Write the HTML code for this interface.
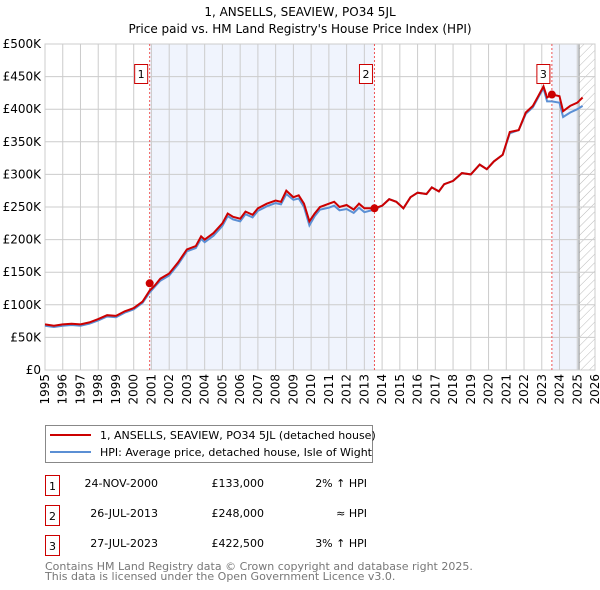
<!DOCTYPE html>
<html><head><meta charset="utf-8"><style>
body{margin:0;background:#fff;}
svg{display:block;font-family:"DejaVu Sans","Liberation Sans",sans-serif;}
</style></head><body>
<svg id="chart" width="600" height="590" xmlns="http://www.w3.org/2000/svg">
<defs><pattern id="hatch" width="6" height="6" patternUnits="userSpaceOnUse" patternTransform="rotate(45)"><line x1="0" y1="0" x2="0" y2="6" stroke="#bbb" stroke-width="1"/></pattern></defs>
<text x="300" y="16" text-anchor="middle" font-size="12" fill="#000">1, ANSELLS, SEAVIEW, PO34 5JL</text>
<text x="300" y="33" text-anchor="middle" font-size="12" fill="#000">Price paid vs. HM Land Registry's House Price Index (HPI)</text>
<g id="plot"></g>
<g>
<rect x="45.5" y="425.5" width="327" height="37" fill="#fff" stroke="#888"/>
<line x1="50" y1="435" x2="91" y2="435" stroke="#cc0000" stroke-width="2"/>
<text x="100" y="439" font-size="11">1, ANSELLS, SEAVIEW, PO34 5JL (detached house)</text>
<line x1="50" y1="452" x2="91" y2="452" stroke="#5b8fd4" stroke-width="2"/>
<text x="100" y="456" font-size="11">HPI: Average price, detached house, Isle of Wight</text>
</g>
<g font-size="11">
<rect x="45.5" y="475.5" width="14" height="20" fill="#fff" stroke="#cc0000"/><text x="52.5" y="490" text-anchor="middle">1</text>
<text x="158" y="487" text-anchor="end">24-NOV-2000</text><text x="264" y="487" text-anchor="end">£133,000</text><text x="367" y="487" text-anchor="end">2% ↑ HPI</text>
<rect x="45.5" y="505.5" width="14" height="20" fill="#fff" stroke="#cc0000"/><text x="52.5" y="520" text-anchor="middle">2</text>
<text x="158" y="517" text-anchor="end">26-JUL-2013</text><text x="264" y="517" text-anchor="end">£248,000</text><text x="367" y="517" text-anchor="end">≈ HPI</text>
<rect x="45.5" y="535.5" width="14" height="20" fill="#fff" stroke="#cc0000"/><text x="52.5" y="550" text-anchor="middle">3</text>
<text x="158" y="547" text-anchor="end">27-JUL-2023</text><text x="264" y="547" text-anchor="end">£422,500</text><text x="367" y="547" text-anchor="end">3% ↑ HPI</text>
</g>
<text x="45" y="570" font-size="11" fill="#777">Contains HM Land Registry data © Crown copyright and database right 2025.</text>
<text x="45" y="580" font-size="11" fill="#777">This data is licensed under the Open Government Licence v3.0.</text>
</svg>
<script>
const yTicks=[0,50,100,150,200,250,300,350,400,450,500];
const yTickLabels=["£0","£50K","£100K","£150K","£200K","£250K","£300K","£350K","£400K","£450K","£500K"];
const xYears=[1995,1996,1997,1998,1999,2000,2001,2002,2003,2004,2005,2006,2007,2008,2009,2010,2011,2012,2013,2014,2015,2016,2017,2018,2019,2020,2021,2022,2023,2024,2025,2026];
const saleDates=[2000.9,2013.57,2023.57];
const salePrices=[133,248,422.5];
const saleLabels=["1","2","3"];
const priceT=[1995,1995.5,1996,1996.5,1997,1997.5,1998,1998.5,1999,1999.5,2000,2000.5,2000.9,2001.2,2001.5,2002,2002.5,2003,2003.5,2003.8,2004,2004.5,2005,2005.3,2005.6,2006,2006.3,2006.7,2007,2007.5,2008,2008.3,2008.6,2009,2009.3,2009.6,2009.9,2010.2,2010.5,2011,2011.3,2011.6,2012,2012.4,2012.7,2013,2013.57,2014,2014.4,2014.8,2015.2,2015.6,2016,2016.5,2016.8,2017.2,2017.5,2018,2018.5,2019,2019.5,2019.9,2020.3,2020.8,2021.2,2021.7,2022.1,2022.5,2022.8,2023.1,2023.3,2023.57,2024.0,2024.2,2024.6,2025.0,2025.3];
const priceV=[70,68,70,71,70,73,78,84,83,90,95,105,122,130,140,148,165,185,190,205,200,210,225,240,235,232,243,238,248,255,260,258,275,265,268,255,228,240,250,255,258,250,253,246,255,248,248,252,262,258,248,265,272,270,280,274,285,290,302,300,315,308,320,330,365,368,395,405,420,435,418,422.5,420,397,405,410,418];
const hpiV=[68,66,68,69,68,71,76,82,81,88,93,103,119,128,137,145,162,182,187,201,196,206,221,236,231,228,239,234,244,251,256,254,270,261,263,250,222,236,246,249,252,245,247,241,249,242,246,252,262,258,248,265,272,270,280,274,285,290,302,300,315,308,320,330,363,368,393,403,418,432,412,412,410,388,395,400,405];
const L=45,R=595,T=44,B=370;
const xs=t=>L+(t-1995)/(2026-1995)*(R-L);
const ys=v=>B-v/500*(B-T);
const NS="http://www.w3.org/2000/svg";
const g=document.getElementById('plot');
function mk(tag,attrs,parent){const e=document.createElementNS(NS,tag);for(const k in attrs)e.setAttribute(k,attrs[k]);(parent||g).appendChild(e);return e;}
// shading
let s1=mk('rect',{x:xs(saleDates[0]),y:T,width:xs(saleDates[1])-xs(saleDates[0]),height:B-T,fill:'#f0f4fd'});


let s2=mk('rect',{x:xs(saleDates[2]),y:T,width:xs(2025.1)-xs(saleDates[2]),height:B-T,fill:'#f0f4fd'});


let h=mk('rect',{x:xs(2025.1),y:T,width:R-xs(2025.1),height:B-T,fill:'url(#hatch)'});


mk('line',{x1:xs(2025.1),x2:xs(2025.1),y1:T,y2:B,stroke:'#888'});
// grid
yTicks.forEach((v,i)=>{
  mk('line',{x1:L,x2:R,y1:ys(v),y2:ys(v),stroke:'#ccc'});
  const t=mk('text',{x:L-4,y:ys(v)+4,'text-anchor':'end','font-size':12});
  t.textContent=yTickLabels[i];
  
  
});
xYears.forEach(y=>{
  mk('line',{x1:xs(y),x2:xs(y),y1:T,y2:B,stroke:'#ccc'});
  const t=mk('text',{x:0,y:0,'text-anchor':'end','font-size':12,transform:`translate(${xs(y)+4},${B+4}) rotate(-90)`});
  t.textContent=y;
  
  
});
mk('rect',{x:L,y:T,width:R-L,height:B-T,fill:'none',stroke:'#ccc'});
// sale markers lines
saleDates.forEach((d,i)=>{
  mk('line',{x1:xs(d),x2:xs(d),y1:T,y2:B,stroke:'#e55','stroke-dasharray':'2,2'});
  const bx=mk('rect',{x:xs(d)-15,y:64.5,width:13,height:19,fill:'#fff',stroke:'#cc0000'});
  
  
  const t=mk('text',{x:xs(d)-8.5,y:78,'text-anchor':'middle','font-size':11});
  t.textContent=saleLabels[i];
  
  
});
const path=(vals)=>vals.map((v,i)=>(i?'L':'M')+xs(priceT[i]).toFixed(1)+','+ys(v).toFixed(1)).join('');
const hl=mk('path',{d:path(hpiV),fill:'none',stroke:'#5b8fd4','stroke-width':2});


const pl=mk('path',{d:path(priceV),fill:'none',stroke:'#cc0000','stroke-width':2});


saleDates.forEach((d,i)=>{
  const c=mk('circle',{cx:xs(d),cy:ys(salePrices[i]),r:4,fill:'#cc0000'});
  
  
});
</script>
</body></html>
